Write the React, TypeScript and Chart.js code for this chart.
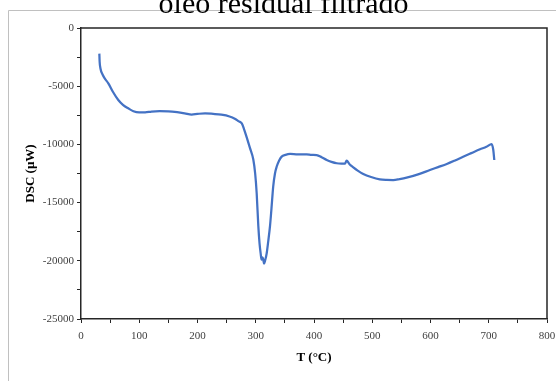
import React, { useEffect, useRef } from "react";
import { Chart, registerables } from "chart.js";

Chart.register(...registerables);

const chartTitle = "óleo residual filtrado";
const xTitle = "T (°C)";
const yTitle = "DSC (µW)";

const temperatures = [
  31.5, 32, 33.5, 37, 41, 46.9, 55, 64, 72, 81, 90, 100, 110, 121, 135, 150, 165, 178, 190, 200,
  213, 227, 241, 255, 264, 270, 276, 280, 284.5, 290, 295.8, 299, 301.6, 304.4, 306.5, 308.5, 310,
  311.5, 313, 314.2, 316, 318.8, 321.5, 324.5, 327, 330, 333, 336, 340, 344.5, 351, 359, 372,
  387.5, 396, 404.6, 413, 421.8, 430, 439, 447, 453.2, 456, 461, 467.5, 475, 484.6, 498, 513, 525,
  536, 547, 559, 580, 599, 613, 628, 642, 656, 670, 685, 696, 705, 707.8, 709.5,
];

const dscValues = [
  -2200, -2900, -3500, -4000, -4350, -4750, -5500, -6186, -6600, -6900, -7150, -7250, -7250, -7180,
  -7150, -7160, -7230, -7330, -7440, -7380, -7330, -7380, -7450, -7600, -7790, -8000, -8200, -8700,
  -9400, -10300, -11300, -12500, -14200, -17000, -18500, -19400, -19900, -19700, -19900, -20250,
  -20000, -19350, -18300, -17000, -15500, -13600, -12500, -11900, -11400, -11050, -10900, -10820,
  -10850, -10850, -10900, -10920, -11100, -11340, -11500, -11620, -11650, -11650, -11400, -11700,
  -11970, -12250, -12540, -12800, -13000, -13050, -13060, -12980, -12860, -12550, -12200, -11950,
  -11680, -11380, -11060, -10750, -10420, -10200, -9970, -10480, -11340,
];

const xMin = 0;
const xMax = 800;
const xStep = 50;
const xLabelEvery = 100;
const yMin = -25000;
const yMax = 0;
const yStep = 2500;
const yLabelEvery = 5000;

const framePlugin = {
  id: "framePlugin",
  beforeDraw(chart: any) {
    const ctx = chart.ctx;
    ctx.save();
    ctx.fillStyle = "#ffffff";
    ctx.fillRect(0, 0, chart.width, chart.height);
    ctx.strokeStyle = "#c0c0c0";
    ctx.lineWidth = 1;
    ctx.beginPath();
    ctx.moveTo(8.5, chart.height);
    ctx.lineTo(8.5, 10.5);
    ctx.lineTo(chart.width, 10.5);
    ctx.stroke();
    ctx.fillStyle = "#000000";
    ctx.font = "30px 'Liberation Serif', 'Times New Roman', serif";
    ctx.textAlign = "center";
    ctx.textBaseline = "alphabetic";
    ctx.fillText(chartTitle, 283.5, 13);
    ctx.restore();
  },
  afterDraw(chart: any) {
    const { ctx, chartArea } = chart;
    ctx.save();
    ctx.strokeStyle = "#262626";
    ctx.lineWidth = 1.5;
    ctx.beginPath();
    ctx.moveTo(chartArea.left, chartArea.top);
    ctx.lineTo(chartArea.right, chartArea.top);
    ctx.lineTo(chartArea.right, chartArea.bottom);
    ctx.stroke();
    ctx.restore();
  },
};

export default function App() {
  const canvasRef = useRef<HTMLCanvasElement | null>(null);

  useEffect(() => {
    if (!canvasRef.current) return;
    const points = temperatures.map((t, i) => ({ x: t, y: dscValues[i] }));
    const tickFont = { family: "'Liberation Serif', 'Times New Roman', serif", size: 11 };
    const titleFont = { family: "'Liberation Serif', 'Times New Roman', serif", size: 13, weight: "bold" as const };
    const chart = new Chart(canvasRef.current, {
      type: "line",
      data: {
        datasets: [
          {
            data: points,
            borderColor: "#4472C4",
            borderWidth: 2.25,
            pointRadius: 0,
            fill: false,
            cubicInterpolationMode: "monotone",
          },
        ],
      },
      options: {
        animation: false,
        responsive: false,
        devicePixelRatio: 1,
        layout: { padding: { left: 0, top: 28, right: 9, bottom: 0 } },
        plugins: { legend: { display: false }, tooltip: { enabled: false }, title: { display: false } },
        scales: {
          x: {
            type: "linear",
            min: xMin,
            max: xMax,
            afterFit: (s: any) => {
              s.height = 62;
              s.paddingLeft = 0;
              s.paddingRight = 0;
            },
            grid: { drawOnChartArea: false, drawTicks: true, tickLength: 4, color: "#262626", tickWidth: 1 },
            border: { display: true, color: "#262626", width: 1.5 },
            ticks: {
              stepSize: xStep,
              autoSkip: false,
              maxRotation: 0,
              padding: 7,
              color: "#404040",
              font: tickFont,
              callback: (v: any) => (Number(v) % xLabelEvery === 0 ? String(v) : ""),
            },
            title: { display: true, text: xTitle, color: "#000000", font: titleFont, padding: { top: 0, bottom: 16 } },
          },
          y: {
            type: "linear",
            min: yMin,
            max: yMax,
            afterFit: (s: any) => {
              s.width = 81;
              s.paddingTop = 0;
              s.paddingBottom = 0;
            },
            grid: { drawOnChartArea: false, drawTicks: true, tickLength: 4, color: "#262626", tickWidth: 1 },
            border: { display: true, color: "#262626", width: 1.5 },
            ticks: {
              stepSize: yStep,
              autoSkip: false,
              padding: 3,
              color: "#404040",
              font: tickFont,
              callback: (v: any) => (Number(v) % yLabelEvery === 0 ? String(v) : ""),
            },
            title: { display: true, text: yTitle, color: "#000000", font: titleFont, padding: { top: 23, bottom: 0 } },
          },
        },
      },
      plugins: [framePlugin],
    });
    return () => chart.destroy();
  }, []);

  return (
    <div style={{ position: "fixed", left: 0, top: 0, width: 556, height: 381 }}>
      <canvas ref={canvasRef} width={556} height={381} style={{ width: 556, height: 381, display: "block" }} />
    </div>
  );
}
